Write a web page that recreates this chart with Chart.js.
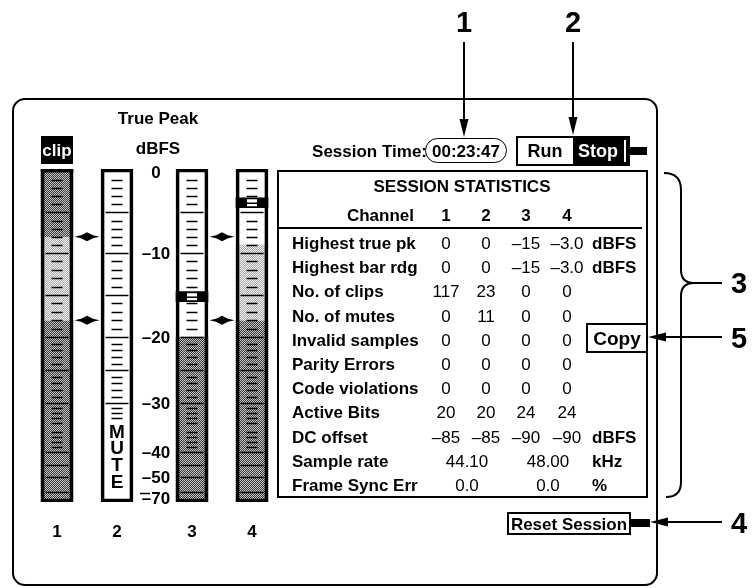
<!DOCTYPE html>
<html>
<head>
<meta charset="utf-8">
<script src="https://cdn.jsdelivr.net/npm/chart.js@4.4.0/dist/chart.umd.min.js"></script>
<style>
html, body { margin: 0; padding: 0; background: #fff; }
#page { position: relative; width: 754px; height: 588px; overflow: hidden;
        font-family: "Liberation Sans", Arial, sans-serif; color: #000; }
#frame { position: absolute; left: 12px; top: 98px; width: 646px; height: 488px;
         border: 2.5px solid #000; border-radius: 13px; box-sizing: border-box; }
#chart { position: absolute; left: 0; top: 0; }
.t { position: absolute; white-space: nowrap; line-height: 1; font-size: 17px; }
.b { font-weight: bold; }
.box { position: absolute; box-sizing: border-box; border: 2.5px solid #000; background: #fff; }
.num { font-family: "Liberation Sans Narrow", "Liberation Sans", sans-serif; font-weight: bold; font-size: 29px; }
</style>
</head>
<body>
<div id="page">
  <div id="frame"></div>
  <canvas id="chart" width="754" height="588"></canvas>

  <!-- statistics table box -->
  <div class="box" id="stats" style="left:277px; top:170px; width:371px; height:328px;"></div>
  <div style="position:absolute; left:277px; top:227px; width:365px; height:2px; background:#000;"></div>

  <!-- clip indicator -->
  <div style="position:absolute; left:41px; top:136px; width:32px; height:28px; background:#000;"></div>

  <!-- session time oval -->
  <div class="box" style="left:425px; top:138px; width:82px; height:25px; border-width:1.5px; border-radius:13px;"></div>

  <!-- run / stop -->
  <div class="box" style="left:516px; top:136px; width:114px; height:30px; border-width:2px;"></div>
  <div style="position:absolute; left:573px; top:136px; width:57px; height:30px; background:#000;"></div>
  <div style="position:absolute; left:624px; top:140px; width:1.5px; height:22px; background:#fff;"></div>
  <div style="position:absolute; left:630px; top:147px; width:17px; height:8px; background:#000;"></div>

  <!-- copy -->
  <div class="box" style="left:586px; top:323px; width:62px; height:30px;"></div>

  <!-- reset session -->
  <div class="box" style="left:507px; top:512px; width:124px; height:23px; border-width:2px;"></div>
  <div style="position:absolute; left:631px; top:519px; width:19px; height:8px; background:#000;"></div>

  <svg width="754" height="588" style="position:absolute; left:0; top:0;">
    <g stroke="#000" stroke-width="2" fill="none">
      <line x1="464" y1="42" x2="464" y2="124"/>
      <line x1="573" y1="42" x2="573" y2="122"/>
      <line x1="722" y1="337" x2="662" y2="337"/>
      <line x1="722" y1="522" x2="662" y2="522"/>
      <path d="M 664 173 Q 681 173 681 190 L 681 270 Q 681 283 694 283 Q 681 283 681 296 L 681 482 Q 681 497 666 497"/>
      <line x1="694" y1="283" x2="722" y2="283"/>
    </g>
    <g fill="#000">
      <polygon points="459.5,119 468.5,119 464,137"/>
      <polygon points="568.5,117 577.5,117 573,135"/>
      <polygon points="648,337 666,332.5 666,341.5"/>
      <polygon points="650,522 668,517.5 668,526.5"/>
    </g>
  </svg>
</div>

<script>
// meters
const channels = ['1', '2', '3', '4'];
const meterPos = [0, 1, 2.25, 3.25];          // x positions of the four meters
const meterLevel = [0, null, -20, -9];         // bar reading, dBFS (null = muted)
const peakHold = [null, null, -15.2, -3.8];    // peak hold markers, dBFS
const clipped = [true, false, false, false];
const mutedCh = [false, true, false, false];

// meter zones (green / yellow / red) and their boundary markers
const zoneLow = -18;
const zoneHigh = -8;
const zoneMarkPos = [0.5, 2.75];

// dBFS scale
const dbTicks = [0, -10, -20, -30, -40, -50, -70];
const dbTickLabels = ['0', '\u201310', '\u201320', '\u201330', '\u201340', '\u201350', '\u201370'];
const majorTicks = [-5, -10, -15, -20, -25, -30, -40, -45, -50, -60];

// session statistics
const highestTruePk = [0, 0, -15, -3.0];
const highestBarRdg = [0, 0, -15, -3.0];
const noOfClips = [117, 23, 0, 0];
const noOfMutes = [0, 11, 0, 0];
const invalidSamples = [0, 0, 0, 0];
const parityErrors = [0, 0, 0, 0];
const codeViolations = [0, 0, 0, 0];
const activeBits = [20, 20, 24, 24];
const dcOffset = [-85, -85, -90, -90];
const sampleRate = [44.10, 48.00];   // ch 1-2, ch 3-4
const frameSyncErr = [0.0, 0.0];     // ch 1-2, ch 3-4

// non linear meter scale: dB value -> fraction of meter height
const scaleDb = [0.4, 0, -10, -20, -30, -40, -50, -60, -70, -72];
const scaleFrac = [0, 0.009, 0.252, 0.505, 0.703, 0.850, 0.925, 0.970, 0.988, 1];

function dbToFrac(v) {
    if (v >= scaleDb[0]) return scaleFrac[0];
    for (let i = 0; i < scaleDb.length - 1; i++) {
        if (v >= scaleDb[i + 1]) {
            const t = (scaleDb[i] - v) / (scaleDb[i] - scaleDb[i + 1]);
            return scaleFrac[i] + t * (scaleFrac[i + 1] - scaleFrac[i]);
        }
    }
    return 1;
}
function fracToDb(f) {
    for (let i = 0; i < scaleFrac.length - 1; i++) {
        if (f <= scaleFrac[i + 1]) {
            const t = (f - scaleFrac[i]) / (scaleFrac[i + 1] - scaleFrac[i]);
            return scaleDb[i] + t * (scaleDb[i + 1] - scaleDb[i]);
        }
    }
    return scaleDb[scaleDb.length - 1];
}

class DbfsScale extends Chart.LinearScale {
    getPixelForValue(v) {
        return this.top + dbToFrac(v) * (this.bottom - this.top);
    }
    getValueForPixel(px) {
        return fracToDb((px - this.top) / (this.bottom - this.top));
    }
}
DbfsScale.id = 'dbfs';
DbfsScale.defaults = Chart.LinearScale.defaults;
Chart.register(DbfsScale);

const ctx = document.getElementById('chart').getContext('2d');

// stipple fill like the printed screen
function stipple(a, b) {
    const pc = document.createElement('canvas');
    pc.width = 2; pc.height = 2;
    const g = pc.getContext('2d');
    g.fillStyle = a; g.fillRect(0, 0, 2, 2);
    g.fillStyle = b; g.fillRect(0, 0, 1, 1); g.fillRect(1, 1, 1, 1);
    return ctx.createPattern(pc, 'repeat');
}
const darkFill = stipple('#3c3c3c', '#c4c4c4');
const lightFill = stipple('#a9a9a9', '#f2f2f2');

// build the floating bar segments for each zone
const greenSeg = [], yellowSeg = [], redSeg = [], clipSeg = [], peakSeg = [];
meterPos.forEach((p, i) => {
    const lv = meterLevel[i];
    if (lv !== null) {
        greenSeg.push({x: p, y: [-72, Math.min(lv, zoneLow)]});
        if (lv > zoneLow) yellowSeg.push({x: p, y: [zoneLow, Math.min(lv, zoneHigh)]});
        if (lv > zoneHigh) redSeg.push({x: p, y: [zoneHigh, lv]});
    }
    if (clipped[i]) clipSeg.push({x: p, y: [0, 0.4]});
    if (peakHold[i] !== null) peakSeg.push({x: p, y: [peakHold[i] - 0.6, peakHold[i] + 0.6]});
});
const fullSeg = meterPos.map(p => ({x: p, y: [-72, 0.4]}));

const common = {barThickness: 32, grouped: false, borderWidth: 0};

const meterMarks = {
    id: 'meterMarks',
    afterDatasetsDraw(chart) {
        const c = chart.ctx;
        const x = chart.scales.x, y = chart.scales.y;
        c.save();
        c.strokeStyle = '#000';
        c.lineWidth = 1.5;

        meterPos.forEach((p, i) => {
            const cx = x.getPixelForValue(p);
            const lowest = mutedCh[i] ? -33 : -39;
            majorTicks.forEach(v => {
                if (mutedCh[i] && v < -30) return;
                const py = Math.round(y.getPixelForValue(v)) + 0.5;
                c.beginPath(); c.moveTo(cx - 11.5, py); c.lineTo(cx + 11.5, py); c.stroke();
            });
            for (let v = -1; v >= lowest; v--) {
                if (v % 5 === 0) continue;
                const py = Math.round(y.getPixelForValue(v)) + 0.5;
                c.beginPath(); c.moveTo(cx - 5.5, py); c.lineTo(cx + 5.5, py); c.stroke();
            }
            if (peakHold[i] !== null) {
                const py = y.getPixelForValue(peakHold[i]);
                c.fillStyle = '#fff';
                c.fillRect(cx - 5, py - 3.5, 10, 7);
                c.beginPath(); c.moveTo(cx - 5, py + 0.5); c.lineTo(cx + 5, py + 0.5); c.stroke();
            }
            if (mutedCh[i]) {
                c.fillStyle = '#000';
                c.font = 'bold 19px "Liberation Sans", Arial, sans-serif';
                c.textAlign = 'center';
                c.textBaseline = 'middle';
                const y0 = y.getPixelForValue(-36);
                'MUTE'.split('').forEach((ch, k) => c.fillText(ch, cx, y0 + k * 16.6));
            }
        });

        // zone boundary markers
        c.fillStyle = '#000';
        zoneMarkPos.forEach(p => {
            const cx = x.getPixelForValue(p);
            [zoneHigh, zoneLow].forEach(v => {
                const py = y.getPixelForValue(v);
                c.beginPath();
                c.moveTo(cx - 12.5, py); c.lineTo(cx - 6, py - 1.5); c.lineTo(cx, py - 4.5);
                c.lineTo(cx + 6, py - 1.5); c.lineTo(cx + 12.5, py); c.lineTo(cx + 6, py + 1.5);
                c.lineTo(cx, py + 4.5); c.lineTo(cx - 6, py + 1.5);
                c.closePath(); c.fill();
            });
        });

        // dBFS labels between meters 2 and 3
        c.font = 'bold 17px "Liberation Sans", Arial, sans-serif';
        c.textAlign = 'center';
        c.textBaseline = 'middle';
        const lx = x.getPixelForValue(1.65);
        dbTicks.forEach((v, k) => c.fillText(dbTickLabels[k], lx, y.getPixelForValue(v) + 1));
        const p60 = Math.round(y.getPixelForValue(-70)) - 4.5;
        c.beginPath(); c.moveTo(lx - 16, p60); c.lineTo(lx - 6, p60); c.stroke();

        // channel numbers under the meters
        meterPos.forEach((p, i) => c.fillText(channels[i], x.getPixelForValue(p), 532));
        c.restore();
    }
};

new Chart(ctx, {
    type: 'bar',
    data: {
        datasets: [
            {...common, data: fullSeg, backgroundColor: 'transparent', borderColor: '#000',
             borderWidth: 3, borderSkipped: false, order: 0},
            {...common, data: peakSeg, backgroundColor: '#000', order: 1},
            {...common, data: clipSeg, backgroundColor: '#000', order: 2},
            {...common, data: redSeg, backgroundColor: darkFill, order: 3},
            {...common, data: yellowSeg, backgroundColor: lightFill, order: 4},
            {...common, data: greenSeg, backgroundColor: darkFill, order: 5},
            {...common, data: fullSeg, backgroundColor: '#fff', order: 6}
        ]
    },
    options: {
        responsive: false,
        animation: false,
        layout: {padding: {left: 27, right: 472, top: 169, bottom: 86}},
        plugins: {legend: {display: false}, tooltip: {enabled: false}},
        scales: {
            x: {type: 'linear', min: -0.5, max: 3.75, offset: false, display: false},
            y: {type: 'dbfs', min: -72, max: 0.4, display: false}
        }
    },
    plugins: [meterMarks]
});

// html text
const page = document.getElementById('page');
function put(text, x, y, align, cls, style) {
    const d = document.createElement('div');
    d.className = 't ' + (cls || '');
    d.textContent = text;
    d.style.left = x + 'px';
    d.style.top = y + 'px';
    const tx = align === 'center' ? '-50%' : align === 'right' ? '-100%' : '0';
    d.style.transform = 'translate(' + tx + ', -50%)';
    if (style) Object.assign(d.style, style);
    page.appendChild(d);
    return d;
}

function fmt(v) {
    if (v === 0) return '0';
    const a = Math.abs(v);
    return (v < 0 ? '\u2013' : '') + (a < 10 ? a.toFixed(1) : String(a));
}

put('True Peak', 158, 118, 'center', 'b');
put('dBFS', 158, 148, 'center', 'b');
put('clip', 57, 150, 'center', 'b', {color: '#fff'});
put('Session Time:', 427, 151, 'right', 'b');
put('00:23:47', 466, 151, 'center', 'b');
put('Run', 545, 151, 'center', 'b', {fontSize: '18px'});
put('Stop', 598, 151, 'center', 'b', {fontSize: '18px', color: '#fff'});
put('Copy', 617, 338, 'center', 'b', {fontSize: '19px'});
put('Reset Session', 569, 524, 'center', 'b');

put('1', 464, 22, 'center', 'num');
put('2', 573, 22, 'center', 'num');
put('3', 739, 283, 'center', 'num');
put('5', 739, 338, 'center', 'num');
put('4', 739, 523, 'center', 'num');

// statistics table
const colX = [446, 486, 526, 567];
const pairX = [467, 548];
const labelX = 292, unitX = 592;

put('SESSION STATISTICS', 462, 186, 'center', 'b');
put('Channel', 414, 215, 'right', 'b');
channels.forEach((ch, i) => put(ch, colX[i], 215, 'center', 'b'));

const rows = [
    ['Highest true pk', highestTruePk, 'dBFS'],
    ['Highest bar rdg', highestBarRdg, 'dBFS'],
    ['No. of clips', noOfClips, ''],
    ['No. of mutes', noOfMutes, ''],
    ['Invalid samples', invalidSamples, ''],
    ['Parity Errors', parityErrors, ''],
    ['Code violations', codeViolations, ''],
    ['Active Bits', activeBits, ''],
    ['DC offset', dcOffset, 'dBFS']
];
const rowY0 = 243, rowStep = 24.2;
rows.forEach((r, k) => {
    const ry = rowY0 + k * rowStep;
    put(r[0], labelX, ry, 'left', 'b');
    r[1].forEach((v, i) => put(fmt(v), colX[i], ry, 'center'));
    if (r[2]) put(r[2], unitX, ry, 'left', 'b');
});
const ySr = rowY0 + rows.length * rowStep;
put('Sample rate', labelX, ySr, 'left', 'b');
sampleRate.forEach((v, i) => put(v.toFixed(2), pairX[i], ySr, 'center'));
put('kHz', unitX, ySr, 'left', 'b');
const yFs = ySr + rowStep;
put('Frame Sync Err', labelX, yFs, 'left', 'b');
frameSyncErr.forEach((v, i) => put(v.toFixed(1), pairX[i], yFs, 'center'));
put('%', unitX, yFs, 'left', 'b');
</script>
</body>
</html>
